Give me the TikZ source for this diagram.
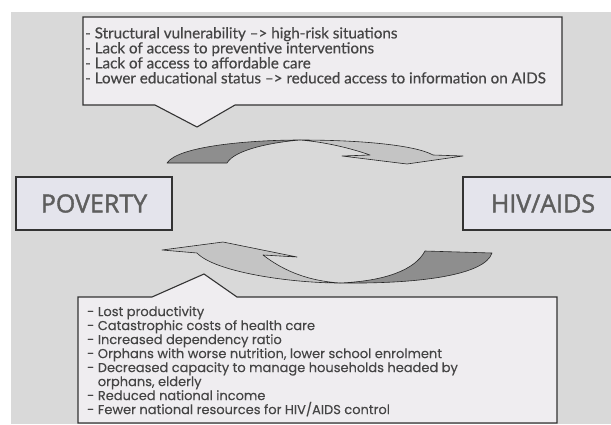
\documentclass[tikz,border=0pt]{standalone}
\usepackage{fontspec}
\setmainfont{Open Sans}
\newfontfamily\topfont[FakeBold=0.5]{Lato}
\newfontfamily\botfont[FakeBold=0.25]{Poppins}
\newfontfamily\labfont[FakeBold=1.6]{Open Sans}
\definecolor{bg}{HTML}{D9D9D9}
\definecolor{boxfill}{HTML}{EFEDF0}
\definecolor{labfill}{HTML}{E4E4EC}
\definecolor{txt}{HTML}{454545}
\definecolor{labtxt}{HTML}{5E5E5E}
\definecolor{darkarr}{HTML}{8E8E8E}
\definecolor{lightarr}{HTML}{C4C4C4}
\begin{document}
\begin{tikzpicture}[x=1pt,y=-1pt,
  callout/.style={draw=black!80, line width=1.1pt, fill=boxfill},
  labelbox/.style={draw=black!80, line width=1.1pt, fill=labfill, inner sep=0pt,
    font=\labfont\fontsize{25}{28}\selectfont, text=labtxt},
  toptext/.style={inner sep=0pt, align=left, text=txt,
    font=\topfont\fontsize{15.2}{15}\selectfont},
  bottext/.style={inner sep=0pt, align=left, text=txt,
    font=\botfont\fontsize{13}{14}\selectfont},
  arrdark/.style={fill=darkarr, draw=black!85, line width=0.6pt, line join=round},
  arrlight/.style={fill=lightarr, draw=black!85, line width=0.6pt, line join=round}]
\useasboundingbox (0,0) rectangle (611,424);
\fill[bg] (11,12) rectangle (611,424);

% top callout
\draw[callout] (83,17) -- (562,17) -- (562,105) -- (235,105) -- (197,127)
  -- (155,105) -- (83,105) -- cycle;
\node[toptext, anchor=north west] (toptxt) at (85,27) {%
- Structural vulnerability –> high-risk situations\\
- Lack of access to preventive interventions\\
- Lack of access to affordable care\\
- Lower educational status –> reduced access to information on AIDS};

% bottom callout
\draw[callout] (78,297) -- (152,297) -- (204,274) -- (237,297) -- (557,297)
  -- (557,423) -- (78,423) -- cycle;
\node[bottext, anchor=north west] (bottxt) at (87,306) {%
- Lost productivity\\
- Catastrophic costs of health care\\
- Increased dependency ratio\\
- Orphans with worse nutrition, lower school enrolment\\
- Decreased capacity to manage households headed by\\
\hphantom{- }orphans, elderly\\
- Reduced national income\\
- Fewer national resources for HIV/AIDS control};

% label boxes
\node[labelbox, minimum width=156pt, minimum height=53pt] (pov) at (94,203.5) {POVERTY};
\node[labelbox, minimum width=160pt, minimum height=53pt] (hiv) at (543,203.5) {HIV/AIDS};

% top curved arrow (poverty -> hiv)
\draw[arrlight] (300,140) .. controls (360,140) and (415,145) .. (433,155)
  -- (463,156) -- (407,164) -- (342,156) -- (370,155)
  .. controls (350,148) and (325,142) .. (300,140) -- cycle;
\draw[arrdark] (167,163) .. controls (178,146) and (250,140) .. (300,140)
  .. controls (275,142) and (235,149) .. (227,163) -- cycle;

% bottom curved arrow (hiv -> poverty)
\draw[arrlight] (162,250) -- (223,242) -- (297,257) -- (263,255)
  .. controls (285,272) and (310,281) .. (340,283)
  .. controls (290,283) and (215,272) .. (197,253) -- cycle;
\draw[arrdark] (340,283) .. controls (420,284) and (485,275) .. (492,253)
  -- (425,251) .. controls (415,270) and (385,281) .. (340,283) -- cycle;
\end{tikzpicture}
\end{document}
